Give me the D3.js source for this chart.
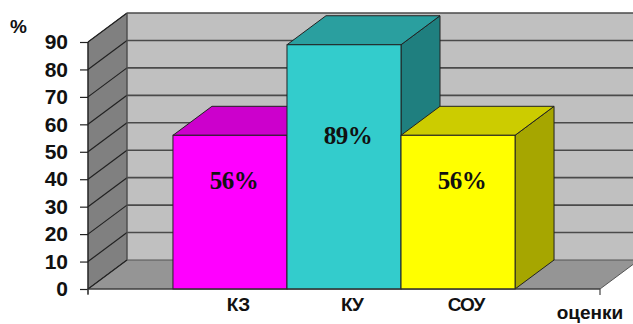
<!DOCTYPE html>
<html>
<head>
<meta charset="utf-8">
<script src="https://cdn.jsdelivr.net/npm/d3@7"></script>
<style>
  html, body { margin: 0; padding: 0; background: #fff; }
  svg { display: block; }
</style>
</head>
<body>
<svg id="chart" width="633" height="324"></svg>
<script>
// Data
const categories = ["КЗ", "КУ", "СОУ"];
const values = [56, 89, 56];
const labels = ["56%", "89%", "56%"];
const yTicks = [0, 10, 20, 30, 40, 50, 60, 70, 80, 90];
const faceColors = ["#ff00ff", "#33cccc", "#ffff00"];
const topColors = ["#cc00cc", "#2a9f9f", "#cccc00"];
const sideColors = ["#990099", "#1f7f7f", "#a6a600"];

const W = 633, H = 324;
const svg = d3.select("#chart");

// Plot geometry (front plane) and the 3D depth offset
const x0 = 88, x1 = 600, yBottom = 289, yTop = 42;
const DX = 39, DY = 29;

const x = d3.scaleBand().domain(categories).range([x0, x1])
  .paddingInner(0).paddingOuter(0.745);
const y = d3.scaleLinear().domain([0, 90]).range([yBottom, yTop]);

const poly = pts => pts.map(p => p.join(",")).join(" ");

// Walls and floor
const g = svg.append("g");
// back wall
g.append("polygon")
  .attr("points", poly([[x0 + DX, y(90) - DY], [x1 + DX + 20, y(90) - DY],
                        [x1 + DX + 20, y(0) - DY], [x0 + DX, y(0) - DY]]))
  .attr("fill", "#c0c0c0");
// left side wall
g.append("polygon")
  .attr("points", poly([[x0, y(0)], [x0, y(90)], [x0 + DX, y(90) - DY], [x0 + DX, y(0) - DY]]))
  .attr("fill", "#808080").attr("stroke", "#333").attr("stroke-width", 0.8);
// floor
g.append("polygon")
  .attr("points", poly([[x0, y(0)], [x1, y(0)], [x1 + DX, y(0) - DY], [x0 + DX, y(0) - DY]]))
  .attr("fill", "#959595").attr("stroke", "#555").attr("stroke-width", 1);

// Gridlines: horizontal on back wall, diagonal on side wall
yTicks.forEach(t => {
  if (t > 0) {
    g.append("line")
      .attr("x1", x0 + DX).attr("x2", W + 10)
      .attr("y1", y(t) - DY).attr("y2", y(t) - DY)
      .attr("stroke", "#4a4a4a").attr("stroke-width", 1.6);
  }
  g.append("line")
    .attr("x1", x0).attr("y1", y(t))
    .attr("x2", x0 + DX).attr("y2", y(t) - DY)
    .attr("stroke", "#222").attr("stroke-width", 1.2);
});
// back wall left edge
g.append("line")
  .attr("x1", x0 + DX).attr("x2", x0 + DX)
  .attr("y1", y(90) - DY).attr("y2", y(0) - DY)
  .attr("stroke", "#555").attr("stroke-width", 1);

// 3D bars, drawn left to right so later bars overlap earlier side faces
const bars = svg.append("g");
categories.forEach((c, i) => {
  const bx0 = x(c), bx1 = x(c) + x.bandwidth();
  const yt = y(values[i]), yb = y(0);
  const bar = bars.append("g");
  // right side face
  bar.append("polygon")
    .attr("points", poly([[bx1, yb], [bx1, yt], [bx1 + DX, yt - DY], [bx1 + DX, yb - DY]]))
    .attr("fill", sideColors[i]).attr("stroke", "#222").attr("stroke-width", 1);
  // top face
  bar.append("polygon")
    .attr("points", poly([[bx0, yt], [bx1, yt], [bx1 + DX, yt - DY], [bx0 + DX, yt - DY]]))
    .attr("fill", topColors[i]).attr("stroke", "#222").attr("stroke-width", 1);
  // front face
  bar.append("rect")
    .attr("x", bx0).attr("y", yt)
    .attr("width", bx1 - bx0).attr("height", yb - yt)
    .attr("fill", faceColors[i]).attr("stroke", "#222").attr("stroke-width", 1);
});

// Value labels on the bars
bars.selectAll("text.val")
  .data(categories)
  .join("text")
  .attr("class", "val")
  .attr("x", c => x(c) + x.bandwidth() / 2 + 4)
  .attr("y", (c, i) => y(values[i] / 2) - 32)
  .attr("dy", "0.35em")
  .attr("text-anchor", "middle")
  .attr("font-family", "'Liberation Serif', 'Times New Roman', serif")
  .attr("font-weight", "bold")
  .attr("font-size", 25)
  .attr("letter-spacing", -0.5)
  .attr("fill", "#111")
  .text((c, i) => labels[i]);

// Front floor edge
svg.append("line")
  .attr("x1", x0).attr("x2", x1).attr("y1", y(0)).attr("y2", y(0))
  .attr("stroke", "#333").attr("stroke-width", 1.2);

// Value axis
const yAxis = d3.axisLeft(y).tickValues(yTicks).tickSize(8).tickPadding(12);
const ya = svg.append("g").attr("transform", `translate(${x0},0)`).call(yAxis);
ya.select(".domain").remove();
ya.selectAll(".tick line").attr("stroke", "#222").attr("stroke-width", 1.2);
ya.selectAll(".tick text")
  .attr("font-family", "'Liberation Sans', Arial, sans-serif")
  .attr("font-weight", "bold")
  .attr("font-size", 21)
  .attr("fill", "#111");
ya.append("line")
  .attr("x1", 0).attr("x2", 0).attr("y1", y(90)).attr("y2", y(0) + 5)
  .attr("stroke", "#222").attr("stroke-width", 1.2);

// Category axis end ticks
[x0, x1].forEach(px => {
  svg.append("line")
    .attr("x1", px).attr("x2", px).attr("y1", y(0)).attr("y2", y(0) + 6)
    .attr("stroke", "#444").attr("stroke-width", 1.2);
});

// Category labels
svg.append("g").selectAll("text")
  .data(categories)
  .join("text")
  .attr("x", c => x(c) + x.bandwidth() / 2 + 8)
  .attr("y", 311)
  .attr("text-anchor", "middle")
  .attr("font-family", "'Liberation Sans', Arial, sans-serif")
  .attr("font-weight", "bold")
  .attr("font-size", 19)
  .attr("letter-spacing", -1)
  .attr("fill", "#111")
  .text(c => c);

// Axis titles
svg.append("text")
  .attr("x", 10).attr("y", 33)
  .attr("font-family", "'Liberation Sans', Arial, sans-serif")
  .attr("font-weight", "bold").attr("font-size", 19)
  .attr("fill", "#111")
  .text("%");
svg.append("text")
  .attr("x", 590).attr("y", 319)
  .attr("text-anchor", "middle")
  .attr("font-family", "'Liberation Sans', Arial, sans-serif")
  .attr("font-weight", "bold").attr("font-size", 19)
  .attr("fill", "#111")
  .text("оценки");
</script>
</body>
</html>
